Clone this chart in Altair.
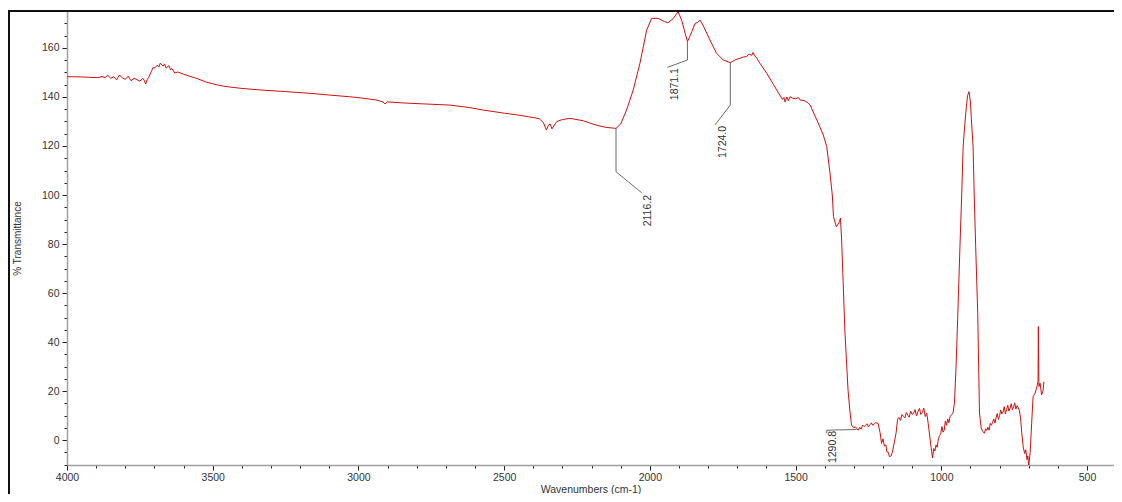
import altair as alt
import pandas as pd

# ---- spectrum (wavenumber cm-1, % transmittance) ----
wavenumber = [
    4000, 3950, 3900, 3890, 3880, 3870, 3860, 3850, 3840, 3830, 3820, 3810, 3800, 3790,
    3780, 3770, 3760, 3750, 3740, 3735, 3730, 3725, 3720, 3710, 3705, 3700, 3690, 3685,
    3680, 3670, 3665, 3660, 3650, 3645, 3640, 3630, 3620, 3600, 3580, 3560, 3520, 3480,
    3450, 3400, 3340, 3250, 3166, 3100, 3030, 2990, 2940, 2916, 2909, 2900, 2850, 2780,
    2686, 2620, 2573, 2500, 2456, 2400, 2380, 2365, 2355, 2348, 2342, 2336, 2325, 2319,
    2300, 2274, 2229, 2181, 2150, 2116, 2100, 2080, 2057, 2034, 2011, 1994, 1972, 1950,
    1938, 1920, 1903, 1891, 1879, 1871, 1862, 1856, 1845, 1835, 1828, 1818, 1794, 1771,
    1748, 1724, 1705, 1691, 1680, 1668, 1660, 1650, 1646, 1640, 1634, 1622, 1599, 1565,
    1545, 1540, 1536, 1530, 1525, 1519, 1510, 1500, 1490, 1485, 1470, 1460, 1450, 1427,
    1405, 1393, 1382, 1374, 1370, 1360, 1350, 1346, 1342, 1337, 1331, 1325, 1320, 1313,
    1308, 1300, 1295, 1291, 1285, 1280, 1275, 1270, 1265, 1260, 1255, 1250, 1245, 1240,
    1235, 1230, 1225, 1217, 1210, 1205, 1200, 1195, 1190, 1187, 1182, 1178, 1172, 1168,
    1165, 1155, 1150, 1145, 1140, 1135, 1130, 1125, 1120, 1115, 1110, 1105, 1100, 1095,
    1090, 1085, 1080, 1075, 1070, 1065, 1060, 1055, 1050, 1045, 1040, 1035, 1030, 1026,
    1022, 1018, 1014, 1010, 1006, 1002, 998, 994, 990, 986, 982, 978, 974, 970,
    966, 960, 955, 950, 947, 941, 936, 930, 925, 920, 914, 910, 905, 900,
    897, 891, 887, 882, 875, 869, 863, 858, 852, 848, 844, 840, 836, 832,
    828, 824, 820, 816, 812, 808, 804, 800, 796, 792, 788, 784, 780, 776,
    772, 768, 764, 760, 756, 752, 748, 744, 740, 736, 732, 728, 724, 719,
    714, 710, 706, 703, 700, 695, 690, 685, 678, 672, 668, 667, 665, 661,
    656, 651, 648,
]
transmittance = [
    148.3, 148.2, 147.9, 148.0, 148.4, 147.9, 148.9, 147.6, 148.3, 147.0, 149.0, 147.8, 147.2, 148.5,
    146.6, 147.7, 147.1, 146.5, 147.6, 146.8, 145.3, 147.1, 148.0, 150.5, 152.0, 151.8, 153.0, 152.2,
    153.8, 152.6, 153.5, 151.8, 152.8, 151.2, 151.6, 149.8, 150.2, 149.3, 148.5, 147.8, 146.0, 144.8,
    144.2, 143.5, 142.9, 142.2, 141.5, 140.8, 140.1, 139.6, 138.8, 138.0, 137.2, 138.0, 137.6, 137.2,
    136.7, 135.7, 134.7, 133.4, 132.7, 131.6, 131.2, 129.5, 126.5, 128.5, 129.0, 127.0, 129.0, 130.0,
    130.8, 131.3, 130.3, 128.4, 127.6, 127.2, 129.0, 134.7, 142.9, 153.8, 167.3, 172.1, 172.1, 170.8,
    170.3, 172.0, 174.8, 171.4, 166.0, 162.6, 165.0, 166.7, 170.0, 170.5, 171.4, 169.4, 163.3, 157.8,
    155.1, 154.0, 155.3, 155.8, 156.3, 156.5, 157.5, 157.0, 158.2, 156.8, 156.0, 153.7, 149.7, 142.9,
    139.0, 139.8, 138.0, 140.0, 138.5, 140.1, 139.5, 139.3, 139.8, 138.8, 138.5, 137.8, 136.7, 130.6,
    124.5, 119.7, 109.0, 100.0, 91.2, 87.0, 89.0, 90.6, 81.6, 65.3, 44.9, 31.4, 20.4, 11.0,
    6.1, 5.0, 5.4, 4.8, 4.0, 5.2, 4.4, 6.1, 5.5, 6.0, 6.6, 5.4, 6.2, 7.0,
    6.0, 6.6, 7.1, 6.8, 3.0, -1.4, 0.5, -2.5, -2.0, -4.8, -5.0, -6.8, -6.5, -5.0,
    -3.3, 3.0, 8.5, 9.2, 8.0, 10.4, 9.6, 9.0, 11.2, 10.1, 9.3, 11.8, 10.5, 10.9,
    12.4, 9.8, 11.6, 12.9, 10.4, 11.3, 13.0, 9.6, 11.0, 6.8, 2.0, -3.0, -7.3, -3.5,
    -4.5, -2.0, -3.0, 0.5, 1.8, 2.5, 5.5, 3.2, 4.0, 7.8, 6.0, 8.6, 7.0, 9.5,
    10.2, 10.9, 15.0, 28.0, 38.0, 60.0, 78.9, 100.0, 119.7, 128.0, 136.0, 140.5, 142.2, 138.0,
    131.3, 119.7, 100.0, 78.9, 51.7, 11.0, 4.8, 3.5, 2.8, 4.6, 3.9, 5.2, 4.0, 6.8,
    6.0, 7.2, 8.6, 6.9, 9.1, 10.8, 8.4, 10.0, 12.2, 10.7, 11.5, 13.6, 10.6, 12.4,
    14.2, 11.8, 13.0, 14.8, 12.3, 13.5, 15.2, 12.6, 14.0, 13.2, 12.0, 9.0, 3.0, -2.7,
    -5.5, -4.0, -8.0, -6.5, -10.5, -5.0, 6.8, 17.7, 19.1, 21.8, 24.0, 46.3, 21.8, 23.2,
    18.4, 20.0, 23.8,
]

# ---- peak annotations ----
peak_labels = ["2116.2", "1871.1", "1724.0", "1290.8"]
label_wn = [2006, 1914, 1750, 1372]
label_val = [100.0, 151.8, 128.2, 3.7]

# leader segments (start -> end) in data units
seg_x = [2116.2, 2116.2, 1871.1, 1871.1, 1724.0, 1724.0, 1290.8, 1393]
seg_y = [127.2, 109.5, 162.6, 155.1, 154.0, 136.7, 4.3, 4.0]
seg_x2 = [2116.2, 2028, 1871.1, 1940, 1724.0, 1776.5, 1393, 1393]
seg_y2 = [109.5, 100.9, 155.1, 152.1, 136.7, 128.6, 4.0, 2.8]

x_ticks = list(range(500, 4001, 100))
y_ticks = list(range(-10, 176, 5))

spec = pd.DataFrame({"wn": wavenumber, "t": transmittance})
labels = pd.DataFrame({"label": peak_labels, "wn": label_wn, "t": label_val})
segs = pd.DataFrame({"x": seg_x, "y": seg_y, "x2": seg_x2, "y2": seg_y2})

FONT = "Liberation Sans"
TXT = "#333333"

xscale = alt.Scale(domain=[407.4, 4000], reverse=True, nice=False, zero=False)
yscale = alt.Scale(domain=[-10.2, 175.1], nice=False, zero=False)

x_axis = alt.Axis(
    values=x_ticks,
    format="d",
    labelExpr="datum.value % 500 === 0 ? datum.label : ''",
    labelOverlap=False,
    labelFlush=False,
    grid=False,
    domainColor="#a0a0a0",
    domainWidth=1.5,
    tickColor="#222222",
    tickWidth=1,
    tickSize={"condition": {"test": "datum.value % 500 === 0", "value": 5}, "value": 3},
    labelPadding=2,
    labelFont=FONT,
    labelFontSize=10.5,
    labelColor=TXT,
    title="Wavenumbers (cm-1)",
    titleFont=FONT,
    titleFontSize=10.5,
    titleFontWeight="normal",
    titleColor=TXT,
    titleY=19,
    titleBaseline="top",
)

y_axis = alt.Axis(
    values=y_ticks,
    format="d",
    labelExpr="datum.value % 20 === 0 ? datum.label : ''",
    labelOverlap=False,
    labelFlush=False,
    grid=False,
    domainColor="#a0a0a0",
    domainWidth=1.5,
    tickColor="#222222",
    tickWidth=1,
    tickSize={"condition": {"test": "datum.value % 20 === 0", "value": 5}, "value": 3},
    labelPadding=3,
    labelFont=FONT,
    labelFontSize=10.5,
    labelColor=TXT,
    title="% Transmittance",
    titleFont=FONT,
    titleFontSize=10,
    titleFontWeight="normal",
    titleColor=TXT,
    titleX=-50,
    titleY=227,
    titleAngle=270,
    titleBaseline="middle",
)

X = lambda f: alt.X(f, scale=xscale, axis=x_axis)
Y = lambda f: alt.Y(f, scale=yscale, axis=y_axis)

line = alt.Chart(spec).mark_line(color="#cc1111", strokeWidth=1, clip=True).encode(
    x=X("wn:Q"),
    y=Y("t:Q"),
    order="wn:Q",
)

leaders = alt.Chart(segs).mark_rule(color="#444444", strokeWidth=0.8).encode(
    x=X("x:Q"),
    y=Y("y:Q"),
    x2="x2:Q",
    y2="y2:Q",
)

texts = alt.Chart(labels).mark_text(
    angle=270, align="right", baseline="middle", font=FONT, fontSize=10.5, color=TXT
).encode(
    x=X("wn:Q"),
    y=Y("t:Q"),
    text="label:N",
)

frame_top = alt.Chart(pd.DataFrame({"a": [0]})).mark_rule(color="#111111", strokeWidth=2).encode(
    x=alt.value(-59), x2=alt.value(1047), y=alt.value(0)
)
frame_left = alt.Chart(pd.DataFrame({"a": [0]})).mark_rule(color="#111111", strokeWidth=2).encode(
    x=alt.value(-58), y=alt.value(0), y2=alt.value(500)
)

chart = alt.layer(line, leaders, texts, frame_top, frame_left).properties(
    width=1047,
    height=454,
    autosize=alt.AutoSizeParams(type="none"),
    padding={"left": 59, "top": 3, "right": 0, "bottom": 29},
).configure_view(stroke=None).configure_axis(labelOverlap=False).configure(background="white")

chart.save("out.html", embed_options={"renderer": "svg", "actions": False})
